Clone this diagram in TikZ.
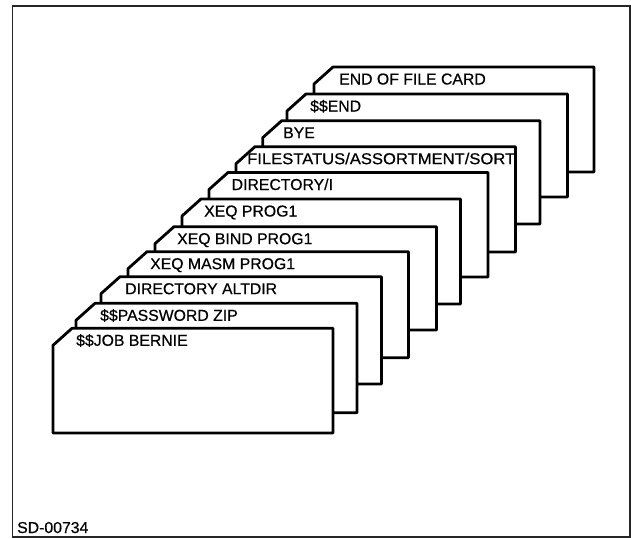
\documentclass[tikz,border=0pt]{standalone}
\usepackage{fontspec}
\setmainfont{Liberation Sans}
\newfontfamily\cardfont[FakeBold=0.5]{Liberation Sans}
\tikzset{
  cardline/.style={draw=black, fill=white, line width=2.8pt, line join=round},
  cardtext/.style={anchor=base west, inner sep=0pt, font=\cardfont\fontsize{15.8}{18}\selectfont},
  frameline/.style={draw=black!85, line width=1.3pt},
}
% #1 name, #2 top-left x, #3 top y, #4 right x, #5 bottom y, #6 text x, #7 text
\newcommand\jobcard[7]{%
  \draw[cardline] (#2,#3) -- (#4,#3) -- (#4,#5) -- (#2-19,#5) -- (#2-19,#3+17) -- cycle;
  \node[cardtext] (#1) at (#6,#3+17.5) {#7};
}
\begin{document}
\begin{tikzpicture}[x=1pt,y=-1pt]
  \useasboundingbox (0,0) rectangle (631,538);
  \draw[frameline] (12.5,6) rectangle (630,537);
  \jobcard{eof}{333}{67}{594}{172}{339}{END OF FILE CARD}
  \jobcard{end}{306}{94}{567.5}{197}{310}{\$\$END}
  \jobcard{bye}{281.7}{120.7}{540}{224}{283}{BYE}
  \jobcard{fst}{255}{146.7}{515.5}{252}{247}{\scalebox{1.05}[1]{FILESTATUS/ASSORTMENT/SORT}}
  \jobcard{diri}{228}{172.5}{488}{277}{231.5}{DIRECTORY/I}
  \jobcard{prog}{201}{199}{460.5}{304}{204}{XEQ PROG1}
  \jobcard{bind}{174}{226.7}{436.5}{330}{177}{XEQ BIND PROG1}
  \jobcard{masm}{147}{251.7}{408.5}{357.7}{150}{XEQ MASM PROG1}
  \jobcard{alt}{120}{276.7}{381.5}{384}{125}{DIRECTORY ALTDIR}
  \jobcard{pwd}{95}{303.3}{357}{412.7}{100}{\$\$PASSWORD ZIP}
  \jobcard{job}{72}{328.3}{333}{433}{76}{\$\$JOB BERNIE}
  \node[cardtext] (sd) at (17,533) {SD-00734};
\end{tikzpicture}
\end{document}
